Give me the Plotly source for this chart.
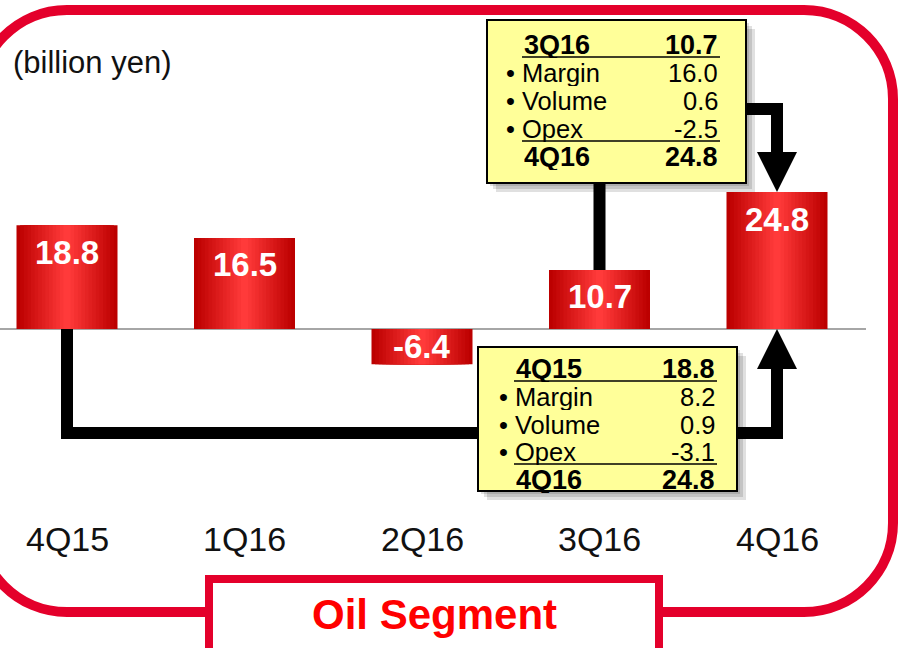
import plotly.graph_objects as go

# ---- data ----
categories = ["4Q15", "1Q16", "2Q16", "3Q16", "4Q16"]
profit = [18.8, 16.5, -6.4, 10.7, 24.8]
unit_label = "(billion yen)"
segment_title = "Oil Segment"

# quarter-on-quarter bridge (3Q16 -> 4Q16)
qoq_items = ["3Q16", "Margin", "Volume", "Opex", "4Q16"]
qoq_values = ["10.7", "16.0", "0.6", "-2.5", "24.8"]
# year-on-year bridge (4Q15 -> 4Q16)
yoy_items = ["4Q15", "Margin", "Volume", "Opex", "4Q16"]
yoy_values = ["18.8", "8.2", "0.9", "-3.1", "24.8"]

# ---- geometry helpers (page pixels -> axis / paper units) ----
W, H = 898, 648
ZERO_PX = 329          # pixel row of the zero line
PX_PER_UNIT = 5.52     # pixels per billion yen
X0_PX, STEP_PX = 67, 177.5
FONT = "Arial, Liberation Sans, sans-serif"


def xd(px):
    return (px - X0_PX) / STEP_PX


def yd(py):
    return (ZERO_PX - py) / PX_PER_UNIT


def xp(px):
    return px / W


def yp(py):
    return 1 - py / H


fig = go.Figure()

# bars: stacked overlays of shrinking width give the dark-edge / bright-centre shading
dark, bright = (188, 0, 0), (255, 58, 58)
n_layers = 14
bar_w = 101 / STEP_PX
xs = list(range(len(categories)))
for k in range(n_layers):
    t = k / (n_layers - 1)
    col = "rgb({},{},{})".format(*[round(a + (b - a) * t) for a, b in zip(dark, bright)])
    fig.add_trace(go.Bar(
        x=xs, y=profit, width=bar_w * (1 - k / n_layers),
        marker=dict(color=col, line_width=0),
        hoverinfo="skip", showlegend=False,
    ))

shapes = []
# zero line
shapes.append(dict(type="line", xref="paper", yref="y", x0=0, x1=xp(866), y0=0, y1=0,
                   line=dict(color="#A6A6A6", width=2), layer="below"))

# connectors
blk = dict(color="black", width=12)
half = 20 / STEP_PX
# 4Q15 -> 4Q16 (below the axis)
shapes.append(dict(type="path", xref="x", yref="y", line=blk,
                   path=f"M 0,0 L 0,{yd(433)} L 4,{yd(433)} L 4,{yd(368)}"))
shapes.append(dict(type="path", xref="x", yref="y", fillcolor="black", line=dict(width=0),
                   path=f"M {4 - half},{yd(369)} L {4 + half},{yd(369)} L 4,0 Z"))
# 3Q16 -> box -> 4Q16 (above)
shapes.append(dict(type="path", xref="x", yref="y", line=blk,
                   path=f"M 3,{profit[3]} L 3,{yd(175)}"))
shapes.append(dict(type="path", xref="x", yref="y", line=blk,
                   path=f"M {xd(740)},{yd(109)} L 4,{yd(109)} L 4,{yd(153)}"))
shapes.append(dict(type="path", xref="x", yref="y", fillcolor="black", line=dict(width=0),
                   path=f"M {4 - half},{yd(152)} L {4 + half},{yd(152)} L 4,{profit[4]} Z"))

annotations = []


def bridge_box(x0, y0, x1, y1, items, values, text_x, bullet_x, val_x, row_y):
    for off in (3, 6, 9):
        shapes.append(dict(type="rect", xref="paper", yref="paper",
                           x0=xp(x0 + off), x1=xp(x1 + off), y0=yp(y1 + off), y1=yp(y0 + off),
                           fillcolor="rgba(0,0,0,0.12)", line=dict(width=0)))
    shapes.append(dict(type="rect", xref="paper", yref="paper",
                       x0=xp(x0), x1=xp(x1), y0=yp(y1), y1=yp(y0),
                       fillcolor="#FFFF99", line=dict(color="black", width=2)))
    for r in (0, 3):
        uy = row_y[r] + 12
        shapes.append(dict(type="line", xref="paper", yref="paper",
                           x0=xp(text_x), x1=xp(val_x), y0=yp(uy), y1=yp(uy),
                           line=dict(color="black", width=1.5)))
    for i, (lab, val) in enumerate(zip(items, values)):
        bold = i in (0, len(items) - 1)
        f = dict(family=FONT, size=27 if bold else 25.5, color="black")
        if bold:
            lt, vt, lx = f"<b>{lab}</b>", f"<b>{val}</b>", text_x
        else:
            lt, vt, lx = f"• {lab}", val, bullet_x
        common = dict(y=yp(row_y[i]), xref="paper", yref="paper", showarrow=False,
                      yanchor="middle", height=26, valign="middle", font=f)
        annotations.append(dict(x=xp(lx), text=lt, xanchor="left", **common))
        annotations.append(dict(x=xp(val_x), text=vt, xanchor="right", **common))


bridge_box(487, 20, 746, 183, qoq_items, qoq_values, 522, 504, 720, [45, 73, 101, 129, 157])
bridge_box(478, 347, 737, 491, yoy_items, yoy_values, 514, 497, 717, [369, 397, 424.5, 452, 480])

# bar value labels
for i, v in enumerate(profit):
    if v > 0:
        annotations.append(dict(x=i, y=v, xref="x", yref="y", yshift=-27, text=f"<b>{v}</b>",
                                showarrow=False, yanchor="middle",
                                font=dict(family=FONT, size=33, color="white")))
    else:
        annotations.append(dict(x=i, y=v / 2, xref="x", yref="y", text=f"<b>{v}</b>",
                                showarrow=False, yanchor="middle",
                                font=dict(family=FONT, size=33, color="white")))

# category labels
for i, c in enumerate(categories):
    annotations.append(dict(x=i, y=yp(539), xref="x", yref="paper", text=c, showarrow=False,
                            yanchor="middle", font=dict(family=FONT, size=34, color="#111111")))

annotations.append(dict(x=xp(11), y=yp(63), xref="paper", yref="paper", text=unit_label,
                        showarrow=False, xanchor="left", yanchor="middle",
                        font=dict(family=FONT, size=31, color="#111111")))


# rounded red frame
def rrect(x0, y0, x1, y1, r):
    k = 0.5523 * r
    pts = [
        ("M", [(x0 + r, y0)]), ("L", [(x1 - r, y0)]),
        ("C", [(x1 - r + k, y0), (x1, y0 + r - k), (x1, y0 + r)]), ("L", [(x1, y1 - r)]),
        ("C", [(x1, y1 - r + k), (x1 - r + k, y1), (x1 - r, y1)]), ("L", [(x0 + r, y1)]),
        ("C", [(x0 + r - k, y1), (x0, y1 - r + k), (x0, y1 - r)]), ("L", [(x0, y0 + r)]),
        ("C", [(x0, y0 + r - k), (x0 + r - k, y0), (x0 + r, y0)]),
    ]
    s = " ".join(cmd + " " + " ".join(f"{xp(a):.5f},{yp(b):.5f}" for a, b in p) for cmd, p in pts)
    return s + " Z"


RED = "#E4002B"
shapes.append(dict(type="path", xref="paper", yref="paper", path=rrect(-22, 10, 893, 612, 89),
                   line=dict(color=RED, width=10)))
shapes.append(dict(type="rect", xref="paper", yref="paper", x0=xp(209), x1=xp(659),
                   y0=yp(670), y1=yp(579), fillcolor="white", line=dict(color=RED, width=8)))
annotations.append(dict(x=xp(434), y=yp(614), xref="paper", yref="paper",
                        text=f"<b>{segment_title}</b>", showarrow=False, yanchor="middle",
                        font=dict(family=FONT, size=42, color="#FF0000")))

fig.update_layout(
    width=W, height=H,
    margin=dict(l=0, r=0, t=0, b=0),
    paper_bgcolor="white", plot_bgcolor="white",
    barmode="overlay",
    xaxis=dict(visible=False, range=[xd(0), xd(W)], fixedrange=True),
    yaxis=dict(visible=False, range=[yd(H), yd(0)], fixedrange=True),
    shapes=shapes, annotations=annotations,
    showlegend=False,
)

# drop the default body margin so the 898x648 figure fills the window exactly
fig.write_html("out.html", config={"displayModeBar": False},
               post_script="document.body.style.margin='0';document.body.style.overflow='hidden';")
